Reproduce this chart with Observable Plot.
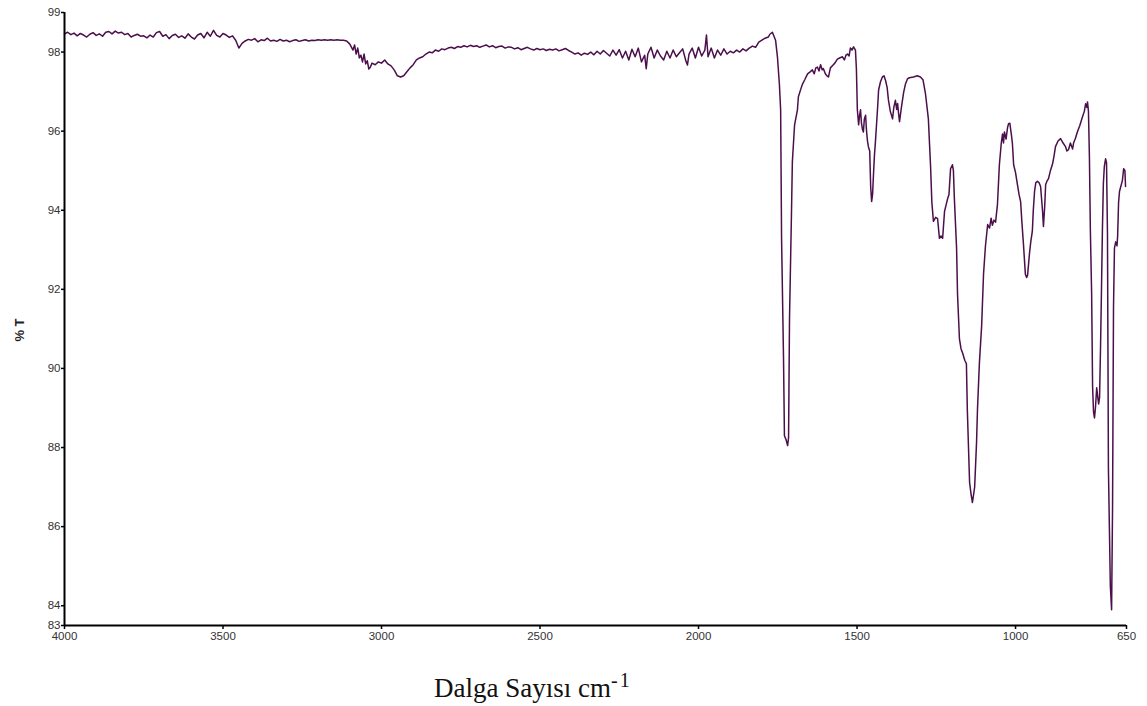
<!DOCTYPE html>
<html>
<head>
<meta charset="utf-8">
<script src="https://cdn.jsdelivr.net/npm/d3@7"></script>
<script src="https://cdn.jsdelivr.net/npm/@observablehq/plot@0.6"></script>
<style>
  body { margin: 0; background: #fff; }
  #chart svg { display: block; }
</style>
</head>
<body>
<div id="chart"></div>
<script>
// FTIR spectrum: wavenumber (cm-1) and transmittance (%T)
const wavenumbers = [
  4000,3990,3980,3970,3960,3950,3940,3930,3920,3910,3900,3890,3880,3870,3860,3850,3840,3830,3820,3810,
  3800,3790,3780,3770,3760,3750,3740,3730,3720,3710,3700,3690,3680,3670,3660,3650,3640,3630,3620,3610,
  3600,3590,3580,3570,3560,3550,3540,3530,3520,3510,3500,3490,3480,3470,3460,3450,3440,3430,3420,3410,
  3400,3390,3380,3370,3360,3350,3340,3330,3320,3310,3300,3290,3280,3270,3260,3250,3240,3230,3220,3210,
  3200,3190,3180,3170,3160,3150,3140,3130,3120,3110,3100,3090,3085,3080,3075,3070,3065,3060,3055,3050,
  3045,3040,3035,3030,3020,3010,3000,2990,2980,2970,2960,2950,2940,2930,2920,2910,2900,2890,2880,2870,
  2860,2850,2840,2830,2820,2810,2800,2790,2780,2770,2760,2750,2740,2730,2720,2710,2700,2690,2680,2670,
  2660,2650,2640,2630,2620,2610,2600,2590,2580,2570,2560,2550,2540,2530,2520,2510,2500,2490,2480,2470,
  2460,2450,2440,2430,2420,2410,2400,2390,2380,2370,2360,2350,2340,2330,2320,2310,2300,2290,2280,2270,
  2260,2250,2240,2230,2220,2210,2200,2190,2180,2170,2165,2160,2150,2140,2130,2120,2110,2100,2090,2080,
  2070,2060,2050,2040,2035,2030,2020,2010,2000,1990,1980,1975,1970,1960,1950,1940,1930,1920,1910,1900,
  1890,1880,1870,1860,1850,1840,1830,1820,1810,1800,1790,1780,1775,
  1767,1762,1757,1751,1745,1741,1738,1732,1729,1724,1719,1716,1713,1707,1704,1697,1688,1685,1678,1672,
  1665,1656,1648,1641,1635,1630,1625,1620,1615,1610,1606,1600,1595,1590,1584,1577,1570,1562,1555,1546,
  1540,1535,1530,1525,1521,1516,1511,1505,1502,1499,1495,1492,1489,1486,1483,1480,1477,1473,1470,1467,
  1464,1460,1457,1454,1451,1448,1445,1442,1435,1432,1426,1420,1415,1410,1405,1401,1395,1388,1384,1379,
  1375,1372,1369,1366,1360,1353,1347,1341,1335,1322,1310,1300,1292,1284,1275,1268,1264,1259,1252,1246,
  1240,1235,1230,1224,1215,1210,1205,1199,1196,1193,1186,1183,1177,1172,1167,1160,1155,1152,1145,1140,
  1136,1129,1123,1120,1114,1107,1101,1095,1088,1082,1077,1073,1068,1063,1057,1051,1045,1041,1038,1035,
  1030,1025,1022,1018,1013,1010,1006,1000,994,989,984,980,975,969,965,962,956,952,947,944,
  940,936,931,926,921,915,912,908,905,900,896,890,883,878,874,866,858,850,842,838,
  833,827,820,817,811,805,797,789,783,779,775,773,770,767,764,760,757,754,751,748,
  744,741,738,735,732,729,726,723,720,716,713,710,707,704,701,697,694,691,688,684,
  680,678,675,672,668,663,659,655,653
];

const transmittance = [
  98.46,98.50,98.44,98.48,98.41,98.47,98.43,98.38,98.45,98.49,98.42,98.46,98.40,98.50,98.52,98.46,98.53,98.48,98.50,98.44,
  98.47,98.38,98.42,98.45,98.40,98.41,98.36,98.43,98.38,98.49,98.52,98.40,98.44,98.34,98.42,98.45,98.37,98.41,98.35,98.46,
  98.38,98.33,98.43,98.47,98.36,98.50,98.40,98.55,98.42,98.38,98.47,98.43,98.37,98.41,98.30,98.10,98.22,98.28,98.32,98.30,
  98.34,98.26,98.31,98.29,98.35,98.28,98.30,98.27,98.32,98.28,98.30,98.26,98.29,98.31,98.27,98.29,98.31,98.28,98.30,98.29,
  98.31,98.30,98.31,98.30,98.31,98.30,98.31,98.30,98.30,98.28,98.20,98.05,98.18,97.95,98.10,97.85,97.92,97.75,97.95,97.70,
  97.78,97.57,97.62,97.72,97.68,97.75,97.72,97.80,97.70,97.65,97.55,97.40,97.37,97.40,97.50,97.60,97.68,97.80,97.85,97.88,
  97.95,98.00,97.98,98.05,98.02,98.08,98.06,98.10,98.12,98.09,98.14,98.12,98.16,98.13,98.17,98.14,98.16,98.12,98.15,98.18,
  98.13,98.16,98.11,98.14,98.15,98.10,98.13,98.12,98.08,98.11,98.06,98.09,98.12,98.08,98.05,98.09,98.06,98.08,98.04,98.07,
  98.05,98.08,98.03,98.06,98.09,98.04,98.00,97.95,97.98,97.92,97.97,97.94,98.00,97.93,98.02,97.95,98.04,97.97,97.90,98.05,
  97.92,98.06,97.85,98.02,97.80,98.07,97.88,98.10,97.75,97.92,97.58,97.95,98.12,97.85,98.05,97.90,97.80,98.02,97.85,98.05,
  97.88,97.98,98.08,97.78,97.67,97.95,98.10,97.85,98.12,97.90,98.05,98.43,97.88,98.10,97.85,98.05,97.92,98.08,97.95,98.02,
  97.98,98.05,98.00,98.08,98.03,98.10,98.15,98.12,98.25,98.30,98.35,98.38,98.45,
  98.50,98.40,98.30,97.87,97.20,96.54,93.26,90.31,88.30,88.20,88.05,88.25,91.27,93.84,95.23,96.16,96.54,96.87,97.05,97.19,
  97.30,97.45,97.50,97.55,97.45,97.60,97.62,97.52,97.68,97.55,97.58,97.45,97.40,97.37,97.60,97.66,97.72,97.82,97.85,97.88,
  97.80,97.92,97.95,97.90,98.10,98.05,98.13,98.05,97.57,96.54,96.16,96.40,96.54,96.20,96.05,95.98,96.30,96.40,96.00,95.75,
  95.60,95.50,94.60,94.22,94.40,94.93,95.40,95.73,96.61,97.04,97.25,97.37,97.40,97.28,97.10,96.79,96.50,96.31,96.60,96.78,
  96.55,96.70,96.45,96.24,96.60,96.98,97.20,97.32,97.35,97.37,97.40,97.37,97.30,96.94,96.31,95.10,94.20,93.72,93.82,93.79,
  93.29,93.35,93.29,93.97,94.27,94.40,95.05,95.15,95.00,94.30,93.04,91.88,90.75,90.50,90.39,90.20,90.12,88.93,87.12,86.80,
  86.61,87.00,88.13,88.98,90.14,91.07,92.38,93.09,93.64,93.55,93.80,93.62,93.75,93.70,94.15,95.15,95.70,95.93,95.70,95.98,
  95.80,96.10,96.19,96.20,95.90,95.70,95.15,94.95,94.65,94.40,94.22,93.70,93.14,92.38,92.30,92.36,92.91,93.20,93.47,94.00,
  94.48,94.70,94.73,94.70,94.60,94.00,93.59,94.10,94.65,94.75,94.80,95.00,95.18,95.40,95.61,95.75,95.81,95.70,95.60,95.50,
  95.53,95.70,95.55,95.70,95.82,95.98,96.15,96.36,96.50,96.69,96.60,96.74,96.50,95.36,93.50,91.90,89.55,88.90,88.75,89.00,
  89.51,89.30,89.10,89.26,90.50,91.95,93.50,94.67,95.10,95.30,95.20,93.41,87.47,86.00,84.50,83.90,86.50,91.55,93.04,93.20,
  93.10,93.34,94.20,94.48,94.60,94.75,95.05,95.00,94.60
];

const xTicks = [4000, 3500, 3000, 2500, 2000, 1500, 1000, 650];
const yTicks = [83.5, 84, 86, 88, 90, 92, 94, 96, 98, 99];
const yTickLabels = ["83", "84", "86", "88", "90", "92", "94", "96", "98", "99"];

const spectrum = wavenumbers.map((wn, i) => ({wn, t: transmittance[i]}));

const tickFont = "'Liberation Sans', Arial, sans-serif";

const chart = Plot.plot({
  width: 1147,
  height: 706,
  marginLeft: 64,
  marginRight: 21,
  marginTop: 12,
  marginBottom: 81,
  style: {background: "#fff", fontFamily: tickFont, fontSize: "11.5px", color: "#333"},
  x: {domain: [4000, 650], label: null},
  y: {domain: [83.5, 99], label: null},
  marks: [
    Plot.line(spectrum, {x: "wn", y: "t", stroke: "#4b0f4b", strokeWidth: 1.5}),
    Plot.axisX({
      ticks: xTicks, tickFormat: d => String(d), tickSize: 4, tickPadding: 2,
      stroke: "#000", strokeWidth: 1.5, label: null, fill: "#333"
    }),
    Plot.axisY({
      ticks: yTicks, tickFormat: d => yTickLabels[yTicks.indexOf(d)], tickSize: 3, tickPadding: 1,
      stroke: "#000", strokeWidth: 1.5, label: null, fill: "#333"
    }),
    Plot.ruleX([4000], {stroke: "#000", strokeWidth: 2}),
    Plot.ruleY([83.5], {stroke: "#000", strokeWidth: 2})
  ]
});

const svg = d3.select(chart);

// y-axis title
svg.append("text")
  .attr("transform", "translate(24,330) rotate(-90)")
  .attr("text-anchor", "middle")
  .attr("font-family", tickFont)
  .attr("font-size", 13)
  .attr("font-weight", 600)
  .attr("fill", "#222")
  .text("% T");

// x-axis title with superscript unit
const xt = svg.append("text")
  .attr("x", 434)
  .attr("y", 697)
  .attr("text-anchor", "start")
  .attr("font-family", "'Liberation Serif', 'Times New Roman', serif")
  .attr("font-size", 27)
  .attr("fill", "#111");
xt.append("tspan").text("Dalga Sayısı cm");
xt.append("tspan").attr("dy", -10).attr("font-size", 20).attr("letter-spacing", 2).text("-1");

document.getElementById("chart").appendChild(chart);
</script>
</body>
</html>
